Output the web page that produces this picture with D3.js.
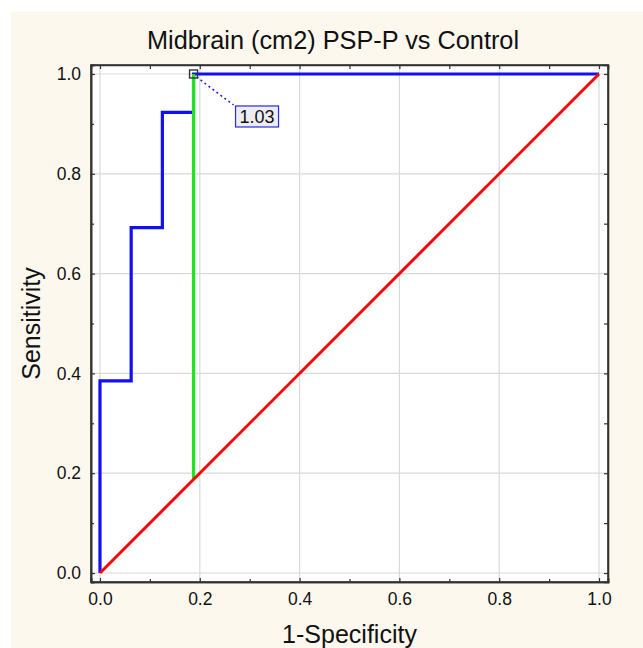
<!DOCTYPE html>
<html>
<head>
<meta charset="utf-8">
<script src="https://cdn.jsdelivr.net/npm/d3@7"></script>
<style>
  body { margin: 0; background: #ffffff; }
  text { font-family: "Liberation Sans", Arial, sans-serif; fill: #111; }
</style>
</head>
<body>
<div id="chart-area"></div>
<script>
// ROC curve points (1-specificity, sensitivity)
const fpr = [0, 0, 0.0625, 0.0625, 0.125, 0.125, 0.1875, 0.1875, 1];
const tpr = [0, 0.385, 0.385, 0.692, 0.692, 0.923, 0.923, 1, 1];
// optimal cutoff
const cutX = 0.1875;
const cutY = 1;
const cutLabel = "1.03";
const ticks = [0, 0.2, 0.4, 0.6, 0.8, 1.0];
const minorTicks = [0.1, 0.3, 0.5, 0.7, 0.9];

const width = 643;
const height = 648;
const margin = { left: 91, right: 35, top: 65, bottom: 66 };
const chartWidth = width - margin.left - margin.right;
const chartHeight = height - margin.top - margin.bottom;

const svg = d3.select('#chart-area')
    .append('svg')
    .attr('width', width)
    .attr('height', height);

svg.append('rect')
    .attr('x', 11).attr('y', 12)
    .attr('width', width - 11).attr('height', height - 12)
    .attr('fill', '#fcf8ee');

const g = svg.append('g')
    .attr('transform', `translate(${margin.left}, ${margin.top})`);

const x = d3.scaleLinear().domain([-0.018, 1.018]).range([0, chartWidth]);
const y = d3.scaleLinear().domain([-0.018, 1.018]).range([chartHeight, 0]);

g.append('rect')
    .attr('width', chartWidth).attr('height', chartHeight)
    .attr('fill', '#ffffff');

// grid
g.append('g').selectAll('line.gx')
    .data(ticks).enter().append('line')
    .attr('x1', d => x(d)).attr('x2', d => x(d))
    .attr('y1', 0).attr('y2', chartHeight)
    .attr('stroke', '#d9d9d9').attr('stroke-width', 1.2);
g.append('g').selectAll('line.gy')
    .data(ticks).enter().append('line')
    .attr('y1', d => y(d)).attr('y2', d => y(d))
    .attr('x1', 0).attr('x2', chartWidth)
    .attr('stroke', '#d9d9d9').attr('stroke-width', 1.2);

// axes (ticks pointing inward)
const fmt = d3.format('.1f');
const xAxis = d3.axisBottom(x).tickValues(ticks).tickFormat(fmt).tickSize(-4).tickPadding(11);
const yAxis = d3.axisLeft(y).tickValues(ticks).tickFormat(fmt).tickSize(-4).tickPadding(10);

g.append('g')
    .attr('class', 'x axis')
    .attr('transform', `translate(0, ${chartHeight})`)
    .call(xAxis);
g.append('g')
    .attr('class', 'y axis')
    .call(yAxis);
g.append('g')
    .attr('transform', `translate(0, ${chartHeight})`)
    .call(d3.axisBottom(x).tickValues(minorTicks).tickFormat('').tickSize(-3));
g.append('g')
    .call(d3.axisLeft(y).tickValues(minorTicks).tickFormat('').tickSize(-3));
g.append('g')
    .call(d3.axisTop(x).tickValues(ticks.concat(minorTicks)).tickFormat('').tickSize(-4));
g.append('g')
    .attr('transform', `translate(${chartWidth}, 0)`)
    .call(d3.axisRight(y).tickValues(ticks.concat(minorTicks)).tickFormat('').tickSize(-4));

g.selectAll('.domain').attr('stroke', '#333').attr('stroke-width', 1.6);
g.selectAll('.tick line').attr('stroke', '#333').attr('stroke-width', 1.2);
g.selectAll('.tick text')
    .style('font-size', '17.5px')
    .style('font-family', '"Liberation Sans", Arial, sans-serif')
    .attr('fill', '#111');

g.append('rect')
    .attr('width', chartWidth).attr('height', chartHeight)
    .attr('fill', 'none').attr('stroke', '#333').attr('stroke-width', 1.6);

// ROC curve
const line = d3.line().x(d => x(d[0])).y(d => y(d[1]));
const rocPts = fpr.map((f, i) => [f, tpr[i]]);

g.append('path')
    .datum(rocPts)
    .attr('d', line)
    .attr('fill', 'none')
    .attr('stroke', '#1010f2')
    .attr('stroke-width', 3.2);

// cutoff line
g.append('path')
    .datum([[cutX, cutX], [cutX, cutY]])
    .attr('d', line)
    .attr('fill', 'none')
    .attr('stroke', '#1ee61e')
    .attr('stroke-width', 3.2);

// reference diagonal
g.append('path')
    .datum([[0, 0], [1, 1]])
    .attr('d', line)
    .attr('fill', 'none')
    .attr('stroke', '#f00a0a')
    .attr('stroke-width', 3);

// cutoff marker and label
const px = x(cutX), py = y(cutY);
g.append('line')
    .attr('x1', px + 3).attr('y1', py + 3)
    .attr('x2', px + 40).attr('y2', py + 31)
    .attr('stroke', '#2222dd').attr('stroke-width', 1.6)
    .attr('stroke-dasharray', '2,3');
g.append('rect')
    .attr('x', px - 4).attr('y', py - 4)
    .attr('width', 8).attr('height', 8)
    .attr('fill', 'none').attr('stroke', '#333').attr('stroke-width', 1.4);
g.append('rect')
    .attr('x', px + 42).attr('y', py + 32)
    .attr('width', 43).attr('height', 21)
    .attr('fill', '#ececf2').attr('stroke', '#2a2ae0').attr('stroke-width', 1.2);
g.append('text')
    .attr('x', px + 63.5).attr('y', py + 49)
    .attr('text-anchor', 'middle')
    .style('font-size', '18px')
    .text(cutLabel);

// titles
svg.append('text')
    .attr('x', 333)
    .attr('y', 49)
    .attr('text-anchor', 'middle')
    .style('font-size', '25.3px')
    .text('Midbrain (cm2) PSP-P vs Control');

svg.append('text')
    .attr('x', margin.left + x(0.5))
    .attr('y', 643)
    .attr('text-anchor', 'middle')
    .style('font-size', '25px')
    .text('1-Specificity');

svg.append('text')
    .attr('x', -(margin.top + y(0.5)))
    .attr('y', 40)
    .attr('transform', 'rotate(-90)')
    .attr('text-anchor', 'middle')
    .style('font-size', '25px')
    .text('Sensitivity');
</script>
</body>
</html>
